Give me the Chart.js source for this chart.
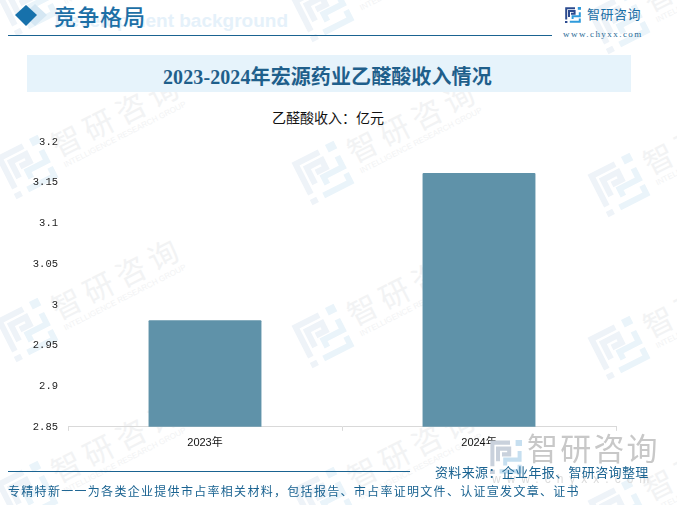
<!DOCTYPE html>
<html lang="zh">
<head>
<meta charset="utf-8">
<title>2023-2024年宏源药业乙醛酸收入情况</title>
<script src="https://cdn.jsdelivr.net/npm/chart.js@4"></script>
<style>
html, body { margin: 0; padding: 0; background: #fff; }
#page { position: relative; width: 677px; height: 505px; overflow: hidden; font-family: "Noto Sans CJK SC", sans-serif; }
#page > * { position: absolute; }
#marks { left: 0; top: 0; }
#chart { left: 0; top: 0; }
.txt { white-space: nowrap; line-height: 1; }
</style>
</head>
<body>
<div id="page">
  <svg id="marks" width="677" height="505" xmlns="http://www.w3.org/2000/svg"></svg>
  <div class="txt" style="right:389px;top:10px;font:bold 19px 'Liberation Sans';color:#e5f1fa">Development background</div>
  <svg style="left:14px;top:2px" width="36" height="26"><path d="M21 2L33 13L21 24L9 13Z" fill="#d5e7f3"/><path d="M12 3L23 13L12 24L1 13Z" fill="#1771ab"/></svg>
  <div class="txt" style="left:54px;top:4px;font-size:22px;font-weight:500;color:#1c6fa6;letter-spacing:1px">竞争格局</div>
  <div style="left:8px;top:35px;width:544px;height:1px;background:#1a6391"></div>
  <svg style="left:565px;top:7px" width="16" height="16" viewBox="0 0 40 40">
    <g fill="none" stroke-width="5">
      <path stroke="#2b4a8f" d="M3 31V3H25M10 25V10H24V17H15"/>
      <path stroke="#2f9bdc" d="M37 13V23H19V30M12 37H37V29"/>
      <rect fill="#2b4a8f" x="0" y="35" width="6" height="5" stroke="none"/>
      <rect fill="#2f9bdc" x="32" y="0" width="8" height="7" stroke="none"/>
    </g>
  </svg>
  <div class="txt" style="left:587px;top:7px;font-size:13px;color:#1c6fa6;letter-spacing:.5px">智研咨询</div>
  <div class="txt" style="left:563px;top:29px;font:9px 'Liberation Serif';color:#2a6b96;letter-spacing:1.45px">www.chyxx.com</div>
  <div style="left:27px;top:55px;width:604px;height:37px;background:#e6f3fb"></div>
  <div class="txt" style="left:163px;top:67px;font-size:20px;font-weight:700;color:#1f5f8b;letter-spacing:.1px;font-family:'Liberation Serif','Noto Sans CJK SC'">2023-2024年宏源药业乙醛酸收入情况</div>
  <div class="txt" id="unit" style="left:272px;top:110px;font-size:14px;color:#111"></div>
  <canvas id="chart" width="677" height="505"></canvas>
  <svg style="left:490px;top:440px" width="32" height="34" viewBox="0 0 40 40" preserveAspectRatio="none">
    <g fill="none" stroke-width="5">
      <path stroke="#c9d1dc" d="M3 31V3H25M10 25V10H24V17H15"/>
      <path stroke="#c6dff0" d="M37 13V23H19V30M12 37H37V29"/>
      <rect fill="#c9d1dc" x="0" y="35" width="6" height="5" stroke="none"/>
      <rect fill="#c6dff0" x="32" y="0" width="8" height="7" stroke="none"/>
    </g>
  </svg>
  <div class="txt" style="left:527px;top:431px;font-size:31px;color:#c8c8c8;letter-spacing:2.2px">智研咨询</div>
  <div class="txt" style="left:492px;top:472px;font:12px 'Liberation Sans';color:#dcdcdc;letter-spacing:6px">www.chyxx.com</div>
  <div style="left:8px;top:471px;width:402px;height:1px;background:#1a6391"></div>
  <div class="txt" style="left:435px;top:465px;font-size:13px;color:#1a6391;letter-spacing:.35px">资料来源：企业年报、智研咨询整理</div>
  <div class="txt" style="left:8px;top:485px;font-size:12px;color:#1a6391;letter-spacing:1.3px">专精特新一一为各类企业提供市占率相关材料，包括报告、市占率证明文件、认证宣发文章、证书</div>
</div>
<script>
// data
const categories = ['2023年', '2024年'];
const incomeValues = [2.981, 3.162];
const axisMin = 2.85;
const axisMax = 3.2;
const axisStep = 0.05;
const unitLabel = '乙醛酸收入：亿元';

document.getElementById('unit').textContent = unitLabel;

// background watermark tiles
const marks = document.getElementById('marks');
const NS = 'http://www.w3.org/2000/svg';
function addTile(x, y) {
    const g = document.createElementNS(NS, 'g');
    g.setAttribute('transform', 'translate(' + x + ' ' + y + ') rotate(-27)');
    g.innerHTML =
        '<g transform="translate(-24 -24) scale(1.2)" fill="none" stroke-width="5">' +
        '<path stroke="#eef3f8" d="M3 31V3H25M10 25V10H24V17H15"/>' +
        '<path stroke="#eaf4fa" d="M37 13V23H19V30M12 37H37V29"/>' +
        '<rect fill="#eef3f8" x="0" y="35" width="6" height="5" stroke="none"/>' +
        '<rect fill="#eaf4fa" x="32" y="0" width="8" height="7" stroke="none"/></g>' +
        '<text x="32" y="6" font-size="30" letter-spacing="6" fill="#f2f3f4" font-family="Noto Sans CJK SC">智研咨询</text>' +
        '<text x="34" y="18" font-size="8" fill="#f2f3f4" font-family="Liberation Sans">INTELLIGENCE RESEARCH GROUP</text>';
    marks.appendChild(g);
}
const tileStarts = [4, 10, 22];
tileStarts.forEach(function (start, col) {
    for (let row = 0; row < 4; row++) {
        addTile(27 + col * 296, start + row * 163);
    }
});

new Chart(document.getElementById('chart'), {
    type: 'bar',
    data: {
        labels: categories,
        datasets: [{
            label: '乙醛酸收入',
            data: incomeValues,
            backgroundColor: '#5f92a9',
            borderRadius: 1,
            barPercentage: 0.412,
            categoryPercentage: 1
        }]
    },
    options: {
        responsive: false,
        animation: false,
        layout: { padding: { left: 0, right: 61, top: 142, bottom: 49 } },
        plugins: {
            legend: { display: false },
            tooltip: { enabled: false }
        },
        scales: {
            x: {
                border: { color: '#d9d9d9' },
                grid: { color: '#d9d9d9', drawOnChartArea: false, tickLength: 4 },
                ticks: {
                    color: '#111',
                    padding: 6,
                    maxRotation: 0,
                    font: { family: 'Liberation Sans, Noto Sans CJK SC', size: 11 }
                }
            },
            y: {
                min: axisMin,
                max: axisMax,
                border: { display: false },
                grid: { display: false },
                afterFit: function (scale) { scale.width = 68; },
                ticks: {
                    stepSize: axisStep,
                    color: '#222',
                    padding: 2,
                    font: { family: 'Liberation Mono', size: 10.5 },
                    callback: function (value) { return String(Number(value.toFixed(2))); }
                }
            }
        }
    }
});
</script>
</body>
</html>
